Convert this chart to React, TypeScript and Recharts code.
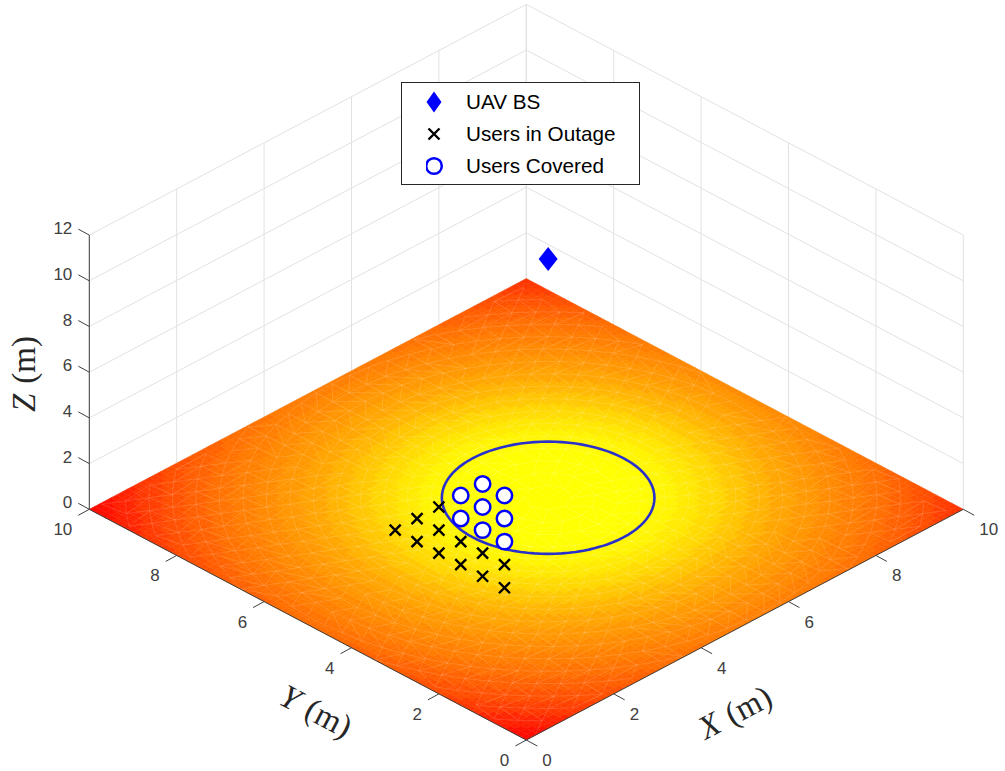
import { ScatterChart, Scatter, XAxis, YAxis, ReferenceLine, Legend } from "recharts";

const WIDTH = 1005;
const HEIGHT = 771;

// view of the 3D box on the page
const ORIGIN_X = 526.3;
const ORIGIN_Y = 740;
const UNIT_X = 43.7;
const UNIT_Y = 23.07;
const UNIT_Z = 22.85;

const project = (x: number, y: number, z = 0) => ({
  sx: ORIGIN_X + UNIT_X * (x - y),
  sy: ORIGIN_Y - UNIT_Y * (x + y) - UNIT_Z * z,
});

const groundTicks = [0, 2, 4, 6, 8, 10];
const zTicks = [0, 2, 4, 6, 8, 10, 12];
const Z_TOP = 12;

const uavX = [5.5];
const uavY = [5];
const uavZ = [10.45];

const outageX = [3, 3.5, 4, 3, 3.5, 3, 3.5, 3, 3.5, 3, 3.5, 3];
const outageY = [6, 6, 6, 5.5, 5.5, 5, 5, 4.5, 4.5, 4, 4, 3.5];
const coveredX = [4.5, 5, 5, 4.5, 4, 4.5, 4, 4];
const coveredY = [6, 6, 5.5, 5.5, 5.5, 5, 5, 4.5];
const USER_Z = 0.1;

const CENTER_X = 5.5;
const CENTER_Y = 5;
const COVER_RADIUS = 1.72;

// colour of the surface against distance from the centre (green channel, autumn map)
const surfaceRadius = [0, 1.4, 2, 2.55, 3.64, 4.5, 5.26, 6.3, 6.73, 7.08, 7.43];
const surfaceGreen = [255, 255, 243, 222, 170, 140, 115, 70, 40, 22, 0];
const CELL = 0.125;
const RING_STEP = 0.38;
const RING_COUNT = 20;

const legendItems = [
  { name: "UAV BS", kind: "diamond" },
  { name: "Users in Outage", kind: "cross" },
  { name: "Users Covered", kind: "circle" },
];

const greenAt = (r: number) => {
  for (let i = 1; i < surfaceRadius.length; i++) {
    if (r <= surfaceRadius[i]) {
      const t = (r - surfaceRadius[i - 1]) / (surfaceRadius[i] - surfaceRadius[i - 1]);
      return Math.round(surfaceGreen[i - 1] + t * (surfaceGreen[i] - surfaceGreen[i - 1]));
    }
  }
  return 0;
};

const cells: any[] = [];
for (let i = 0; i < 10 / CELL; i++) {
  for (let j = 0; j < 10 / CELL; j++) {
    const x = (i + 0.5) * CELL;
    const y = (j + 0.5) * CELL;
    const r = Math.hypot(x - CENTER_X, y - CENTER_Y);
    // half stepped, so the contour bands show a little
    const banded = 0.5 * r + 0.5 * Math.round(r / RING_STEP) * RING_STEP;
    cells.push({ ...project(x, y), fill: `rgb(255,${greenAt(banded)},0)` });
  }
}

const inside = (p: number[]) => p[0] >= 0 && p[0] <= 10 && p[1] >= 0 && p[1] <= 10;
const ringSize = (ring: number) => 8 + ring * 6;
const ringPoint = (ring: number, k: number) => {
  const r = (ring + 1) * RING_STEP;
  const a = ((k + (ring % 2) * 0.5) / ringSize(ring)) * 2 * Math.PI;
  return [CENTER_X + r * Math.cos(a), CENTER_Y + r * Math.sin(a)];
};
const meshEdges: any[] = [];
const addEdge = (a: number[], b: number[]) => {
  if (!inside(a) || !inside(b)) return;
  const p = project(a[0], a[1]);
  const q = project(b[0], b[1]);
  meshEdges.push({ ...p, dx: q.sx - p.sx, dy: q.sy - p.sy });
};
for (let ring = 0; ring < RING_COUNT; ring++) {
  const n = ringSize(ring);
  for (let k = 0; k < n; k++) {
    const a = ringPoint(ring, k);
    addEdge(a, ringPoint(ring, k + 1));
    if (ring + 1 < RING_COUNT) {
      const first = Math.floor((k / n) * ringSize(ring + 1));
      addEdge(a, ringPoint(ring + 1, first));
      addEdge(a, ringPoint(ring + 1, first + 1));
    }
  }
}

const coverCircle: any[] = [];
for (let k = 0; k <= 96; k++) {
  const a = (k / 96) * 2 * Math.PI;
  coverCircle.push(project(CENTER_X + COVER_RADIUS * Math.cos(a), CENTER_Y + COVER_RADIUS * Math.sin(a)));
}

const uavPoints = uavX.map((x, i) => project(x, uavY[i], uavZ[i]));
const outagePoints = outageX.map((x, i) => project(x, outageY[i], USER_Z));
const coveredPoints = coveredX.map((x, i) => project(x, coveredY[i], USER_Z));

const TICK_FONT = "'Liberation Sans', Arial, sans-serif";
const xTickLabels = groundTicks.map((t) => ({ ...project(t, 0), text: t }));
const yTickLabels = groundTicks.map((t) => ({ ...project(0, t), text: t }));
const zTickLabels = zTicks.map((t) => ({ ...project(0, 10, t), text: t }));

const seg = (a: any, b: any) => [
  { x: a.sx, y: a.sy },
  { x: b.sx, y: b.sy },
];

const Cell = ({ cx, cy, payload }: any) => {
  const w = UNIT_X * CELL;
  const h = UNIT_Y * CELL;
  return (
    <path
      d={`M${cx - w} ${cy}L${cx} ${cy - h}L${cx + w} ${cy}L${cx} ${cy + h}Z`}
      fill={payload.fill}
      stroke={payload.fill}
      strokeWidth={0.5}
    />
  );
};

const MeshEdge = ({ cx, cy, payload }: any) => (
  <line
    x1={cx}
    y1={cy}
    x2={cx + payload.dx}
    y2={cy + payload.dy}
    stroke="#fff"
    strokeOpacity={0.17}
    strokeWidth={0.8}
  />
);

const TickMark = (dx: number, dy: number) => ({ cx, cy }: any) => (
  <line x1={cx} y1={cy} x2={cx + dx} y2={cy + dy} stroke="#404040" strokeWidth={1} />
);

const TickText =
  (dx: number, dy: number, anchor: string) =>
  ({ cx, cy, payload }: any) => (
    <text x={cx + dx} y={cy + dy} textAnchor={anchor} fontFamily={TICK_FONT} fontSize={17} fill="#404040">
      {payload.text}
    </text>
  );

const Diamond = ({ cx, cy }: any) => (
  <path d={`M${cx} ${cy - 12}L${cx + 9.5} ${cy}L${cx} ${cy + 12}L${cx - 9.5} ${cy}Z`} fill="#0000ff" />
);

const Cross = ({ cx, cy }: any) => (
  <path
    d={`M${cx - 5.5} ${cy - 5.5}L${cx + 5.5} ${cy + 5.5}M${cx + 5.5} ${cy - 5.5}L${cx - 5.5} ${cy + 5.5}`}
    stroke="#000"
    strokeWidth={2.4}
  />
);

const Ring = ({ cx, cy }: any) => <circle cx={cx} cy={cy} r={7.7} fill="#fff" stroke="#0000ff" strokeWidth={2.5} />;

const NoMark = () => null;

const legendMarker = (kind: string) => {
  if (kind === "diamond") return <path d="M8 -10.5L15.5 0L8 10.5L0.5 0Z" fill="#0000ff" />;
  if (kind === "cross") return <path d="M2.5 -5.5L13.5 5.5M13.5 -5.5L2.5 5.5" stroke="#000" strokeWidth={2.4} />;
  return <circle cx={8} cy={0} r={7.8} fill="#fff" stroke="#0000ff" strokeWidth={2.5} />;
};

const LegendBox = () => (
  <div
    style={{
      width: 239,
      height: 103,
      boxSizing: "border-box",
      border: "1px solid #262626",
      background: "#fff",
      paddingTop: 3,
      fontFamily: TICK_FONT,
      fontSize: 20.7,
      color: "#000",
    }}
  >
    {legendItems.map((item) => (
      <div key={item.name} style={{ display: "flex", alignItems: "center", height: 32 }}>
        <svg width={20} height={24} viewBox="0 -12 20 24" style={{ marginLeft: 24 }}>
          {legendMarker(item.kind)}
        </svg>
        <span style={{ marginLeft: 20 }}>{item.name}</span>
      </div>
    ))}
  </div>
);

const titleX = [{ sx: 740, sy: 722, letter: "X", rotate: -27.7 }];
const titleY = [{ sx: 311, sy: 721, letter: "Y", rotate: 27.7 }];
const titleZ = [{ sx: 35, sy: 374, letter: "Z", rotate: -90 }];
const TitleShape = ({ cx, cy, payload }: any) => (
  <text
    transform={`translate(${cx},${cy}) rotate(${payload.rotate})`}
    textAnchor="middle"
    fontFamily="'Liberation Serif', serif"
    fontSize={33}
    fill="#262626"
  >
    <tspan fontStyle="italic">{payload.letter}</tspan>
    <tspan dx={10}>(m)</tspan>
  </text>
);

export default function App() {
  const corner = project(0, 10);
  const origin = project(0, 0);
  const right = project(10, 0);
  return (
    <div style={{ position: "absolute", left: 0, top: 0, width: WIDTH, height: HEIGHT }}>
      <ScatterChart width={WIDTH} height={HEIGHT} margin={{ top: 0, right: 0, bottom: 0, left: 0 }}>
        <XAxis type="number" dataKey="sx" domain={[0, WIDTH]} hide />
        <YAxis type="number" dataKey="sy" domain={[0, HEIGHT]} reversed hide />

        {/* back walls */}
        {zTicks.map((z) => (
          <ReferenceLine key={`zl${z}`} segment={seg(project(0, 10, z), project(10, 10, z))} stroke="#e2e2e2" />
        ))}
        {zTicks.map((z) => (
          <ReferenceLine key={`zr${z}`} segment={seg(project(10, 0, z), project(10, 10, z))} stroke="#e2e2e2" />
        ))}
        {groundTicks.map((t) => (
          <ReferenceLine key={`vl${t}`} segment={seg(project(t, 10), project(t, 10, Z_TOP))} stroke="#e2e2e2" />
        ))}
        {groundTicks.map((t) => (
          <ReferenceLine key={`vr${t}`} segment={seg(project(10, t), project(10, t, Z_TOP))} stroke="#e2e2e2" />
        ))}

        <Scatter data={cells} shape={Cell} isAnimationActive={false} />
        <Scatter data={meshEdges} shape={MeshEdge} isAnimationActive={false} />

        {/* axis lines and ticks */}
        <Scatter data={[origin, corner]} line={{ stroke: "#404040", strokeWidth: 1 }} shape={NoMark} isAnimationActive={false} />
        <Scatter data={[origin, right]} line={{ stroke: "#404040", strokeWidth: 1 }} shape={NoMark} isAnimationActive={false} />
        <Scatter
          data={[corner, project(0, 10, Z_TOP)]}
          line={{ stroke: "#404040", strokeWidth: 1 }}
          shape={NoMark}
          isAnimationActive={false}
        />
        <Scatter data={xTickLabels} shape={TickMark(11, 6)} isAnimationActive={false} />
        <Scatter data={yTickLabels} shape={TickMark(-11, 6)} isAnimationActive={false} />
        <Scatter data={zTickLabels} shape={TickMark(-11, -6)} isAnimationActive={false} />
        <Scatter data={xTickLabels} shape={TickText(16, 26, "start")} isAnimationActive={false} />
        <Scatter data={yTickLabels} shape={TickText(-17, 26, "end")} isAnimationActive={false} />
        <Scatter data={zTickLabels} shape={TickText(-17, -1, "end")} isAnimationActive={false} />

        <Scatter data={titleX} shape={TitleShape} isAnimationActive={false} />
        <Scatter data={titleY} shape={TitleShape} isAnimationActive={false} />
        <Scatter data={titleZ} shape={TitleShape} isAnimationActive={false} />

        <Scatter
          data={coverCircle}
          line={{ stroke: "#2a30cc", strokeWidth: 2.6 }}
          shape={NoMark}
          isAnimationActive={false}
        />
        <Scatter name="UAV BS" data={uavPoints} shape={Diamond} isAnimationActive={false} />
        <Scatter name="Users in Outage" data={outagePoints} shape={Cross} isAnimationActive={false} />
        <Scatter name="Users Covered" data={coveredPoints} shape={Ring} isAnimationActive={false} />

        <Legend
          layout="horizontal"
          align="center"
          verticalAlign="middle"
          content={<LegendBox />}
          wrapperStyle={{ left: 401, top: 82, width: 239, height: 103 }}
        />
      </ScatterChart>
    </div>
  );
}
